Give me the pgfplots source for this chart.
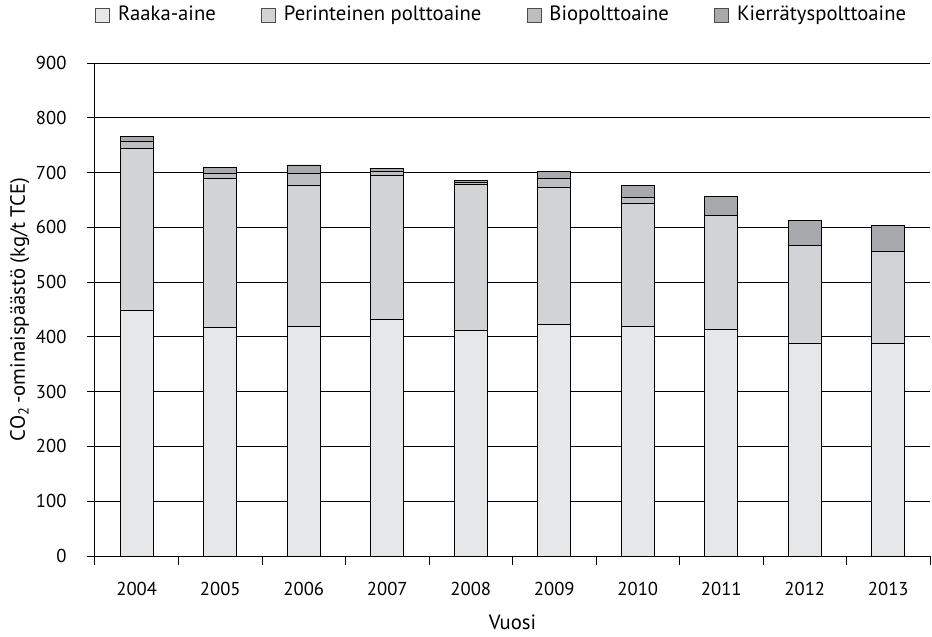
\documentclass[border=0pt]{standalone}
\usepackage{pgfplots}
\pgfplotsset{compat=1.18}
\usepackage{fontspec}
\setmainfont{PT Sans}
\definecolor{cA}{HTML}{E6E7E8}
\definecolor{cB}{HTML}{D1D3D4}
\definecolor{cC}{HTML}{BCBEC0}
\definecolor{cD}{HTML}{A7A9AC}
\begin{document}
\fontsize{15.5}{18}\selectfont
\begin{tikzpicture}
\useasboundingbox (-71.25pt,-60pt) rectangle (627.75pt,417pt);
\begin{axis}[
  scale only axis, width=626.25pt, height=369.75pt,
  ybar stacked, bar width=24.75pt,
  xmin=-0.5, xmax=9.5, ymin=0, ymax=900,
  ytick={0,100,...,900},
  xtick={0,...,9}, xticklabels={2004,2005,2006,2007,2008,2009,2010,2011,2012,2013},
  minor xtick={-0.5,0.5,...,9.5},
  axis x line*=bottom, axis y line*=left,
  tick align=outside,
  major tick length=6pt, minor tick length=6.5pt,
  major x tick style={draw=none},
  every tick/.style={black, line width=0.75pt},
  axis line style={black, line width=0.75pt},
  ymajorgrids, grid style={black, line width=0.75pt},
  x tick label style={yshift=-8pt},
  y tick label style={xshift=-10pt},
  /pgf/number format/assume math mode=true,
  ticklabel style={font=\fontsize{14}{16}\selectfont},
  xlabel={Vuosi},
  xlabel style={at={(axis description cs:0.5,-0.134)}, anchor=center, font=\fontsize{15.5}{18}\selectfont},
  ylabel={CO\textsubscript{2}\,-ominaispäästö (kg/t TCE)},
  ylabel style={at={(axis description cs:-0.09,0.5)}, anchor=center, font=\fontsize{15.5}{18}\selectfont},
  every bar/.append style={draw=black!75, line width=0.75pt},
  legend columns=4,
  legend style={at={(axis description cs:0.0,1.0974)}, anchor=west, draw=none, fill=none,
    font=\fontsize{15.5}{18}\selectfont, inner sep=0pt,
    /tikz/every odd column/.append style={column sep=4pt},
    /tikz/every even column/.append style={column sep=32pt}},
  legend image code/.code={\draw[#1, draw=black!70, line width=0.6pt] (0pt,-5.25pt) rectangle (10.5pt,5.25pt);},
]
\addplot[fill=cA] coordinates {(0,448) (1,418) (2,419) (3,432) (4,413) (5,423) (6,420) (7,414) (8,389) (9,388)};
\addplot[fill=cB] coordinates {(0,296) (1,271) (2,257) (3,263) (4,265) (5,251) (6,224) (7,208) (8,178) (9,169)};
\addplot[fill=cC] coordinates {(0,13) (1,10.5) (2,22) (3,8) (4,4) (5,16) (6,10) (7,0) (8,0) (9,0)};
\addplot[fill=cD] coordinates {(0,9) (1,9.5) (2,16) (3,4.5) (4,4) (5,12) (6,22) (7,34) (8,45) (9,46)};
\legend{Raaka-aine, Perinteinen polttoaine, Biopolttoaine, Kierrätyspolttoaine}
\end{axis}
\end{tikzpicture}
\end{document}
